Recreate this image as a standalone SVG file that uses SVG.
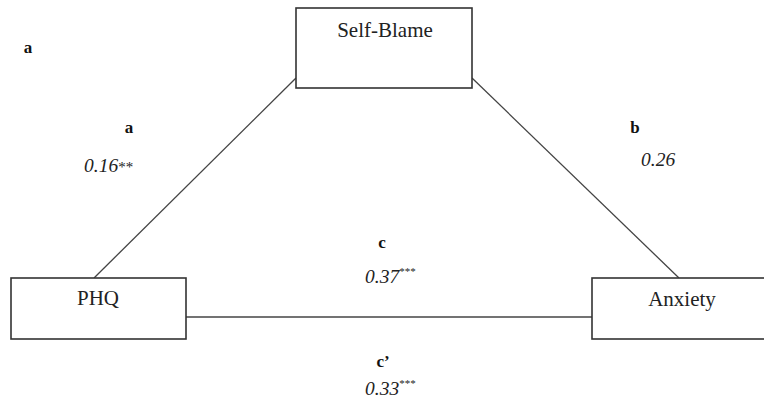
<svg xmlns="http://www.w3.org/2000/svg" width="764" height="404" viewBox="0 0 764 404">
<style>
.box{fill:#fff;stroke:#333;stroke-width:1.6}
.conn{stroke:#444;stroke-width:1.3;fill:none}
.node{font-family:"Liberation Serif","Times New Roman",serif;font-size:21px;fill:#222;text-anchor:middle}
.lbl{font-family:"Liberation Serif","Times New Roman",serif;font-size:17px;font-weight:bold;fill:#111;text-anchor:middle}
.val{font-family:"Liberation Serif","Times New Roman",serif;font-size:19.5px;font-style:italic;fill:#222}
.sup{font-size:11px}
</style>
<rect width="764" height="404" fill="#fff"/>
<g id="connectors">
<line class="conn" x1="94" y1="278" x2="296" y2="78"/>
<line class="conn" x1="472" y1="78" x2="679" y2="278"/>
<line class="conn" x1="186" y1="317" x2="592" y2="317"/>
</g>
<g id="self-blame">
<rect class="box" x="296" y="8" width="176" height="80"/>
<text class="node" x="385" y="37" font-size="22">Self-Blame</text>
</g>
<g id="phq">
<rect class="box" x="11" y="278" width="175" height="61"/>
<text class="node" x="98" y="305" font-size="19.5">PHQ</text>
</g>
<g id="anxiety">
<rect class="box" x="592" y="278" width="180" height="61"/>
<text class="node" x="682" y="306" font-size="22">Anxiety</text>
</g>
<g id="labels">
<text class="lbl" x="28" y="53">a</text>
<text class="lbl" x="129" y="133">a</text>
<text class="val" x="84" y="172">0.16<tspan font-size="15" font-style="normal">**</tspan></text>
<text class="lbl" x="635" y="133">b</text>
<text class="val" x="641" y="166">0.26</text>
<text class="lbl" x="382" y="248">c</text>
<text class="val" x="365" y="283">0.37<tspan class="sup" dy="-8" font-style="normal">***</tspan></text>
<text class="lbl" x="383" y="367">c’</text>
<text class="val" x="365" y="395">0.33<tspan class="sup" dy="-8" font-style="normal">***</tspan></text>
</g>
</svg>
